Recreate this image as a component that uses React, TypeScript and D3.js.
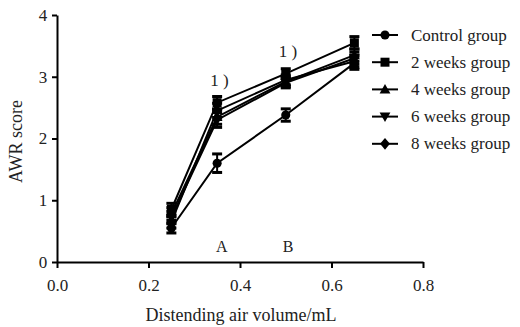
import { useEffect, useRef } from 'react';
import * as d3 from 'd3';

const volumes = [0.25, 0.35, 0.5, 0.65];
const groupNames = ['Control group', '2 weeks group', '4 weeks group', '6 weeks group', '8 weeks group'];
const symbols = ['circle', 'square', 'triangle', 'triangleDown', 'diamond'];

const controlMean = [0.55, 1.6, 2.38, 3.22];
const week2Mean = [0.85, 2.58, 3.05, 3.55];
const week4Mean = [0.78, 2.35, 2.92, 3.35];
const week6Mean = [0.72, 2.3, 2.9, 3.3];
const week8Mean = [0.65, 2.45, 2.95, 3.25];
const seriesMeans = [controlMean, week2Mean, week4Mean, week6Mean, week8Mean];

const controlErr = [0.08, 0.15, 0.1, 0.1];
const week2Err = [0.1, 0.1, 0.08, 0.1];
const week4Err = [0.1, 0.12, 0.08, 0.1];
const week6Err = [0.1, 0.12, 0.08, 0.1];
const week8Err = [0.1, 0.12, 0.08, 0.1];
const seriesErrs = [controlErr, week2Err, week4Err, week6Err, week8Err];

const xTicks = [0, 0.2, 0.4, 0.6, 0.8];
const yTicks = [0, 1, 2, 3, 4];

const sigLabels = [
  { x: 0.355, y: 2.85, text: '1 )' },
  { x: 0.505, y: 3.32, text: '1 )' },
];
const pointLabels = [
  { x: 0.36, text: 'A' },
  { x: 0.505, text: 'B' },
];

const FONT = "'Liberation Serif', 'Times New Roman', 'DejaVu Serif', serif";

function symbolPath(kind: string, s: number): string {
  if (kind === 'circle') return d3.symbol(d3.symbolCircle, s * s * 0.8)()!;
  if (kind === 'square') return `M${-s / 2},${-s / 2}h${s}v${s}h${-s}Z`;
  if (kind === 'triangle') return `M0,${-s * 0.6}L${s * 0.6},${s * 0.45}L${-s * 0.6},${s * 0.45}Z`;
  if (kind === 'triangleDown') return `M0,${s * 0.6}L${s * 0.6},${-s * 0.45}L${-s * 0.6},${-s * 0.45}Z`;
  return `M0,${-s * 0.65}L${s * 0.55},0L0,${s * 0.65}L${-s * 0.55},0Z`;
}

export default function App() {
  const svgRef = useRef<SVGSVGElement>(null);
  const width = 520;
  const height = 327;

  useEffect(() => {
    if (!svgRef.current) return;
    const svg = d3.select(svgRef.current);
    svg.selectAll('*').remove();

    const x = d3.scaleLinear().domain([0, 0.8]).range([57, 423]);
    const y = d3.scaleLinear().domain([0, 4]).range([262, 15]);

    // axes
    const xAxis = svg.append('g').attr('transform', `translate(0,${y(0)})`)
      .call(d3.axisBottom(x).tickValues(xTicks).tickFormat(d => d3.format('.1f')(d as number)).tickSize(6).tickSizeOuter(0));
    const yAxis = svg.append('g').attr('transform', `translate(${x(0)},0)`)
      .call(d3.axisLeft(y).tickValues(yTicks).tickFormat(d => String(d)).tickSize(5).tickSizeOuter(0));
    [xAxis, yAxis].forEach(a => {
      a.attr('font-family', FONT).attr('font-size', 17);
      a.selectAll('path').attr('stroke', '#000').attr('stroke-width', 2);
      a.selectAll('line').attr('stroke', '#000').attr('stroke-width', 2);
      a.selectAll('text').attr('fill', '#222');
    });
    xAxis.selectAll('text').attr('dy', '1.15em');
    yAxis.selectAll('text').attr('dx', '-0.1em');

    svg.append('text')
      .attr('x', 241).attr('y', 321)
      .attr('text-anchor', 'middle')
      .attr('font-family', FONT).attr('font-size', 18).attr('fill', '#222')
      .text('Distending air volume/mL');

    svg.append('text')
      .attr('transform', `translate(22,${y(1.95)}) rotate(-90)`)
      .attr('text-anchor', 'middle')
      .attr('font-family', FONT).attr('font-size', 18).attr('fill', '#222')
      .text('AWR score');

    const line = d3.line<number>().x((_, i) => x(volumes[i])).y(d => y(d));

    seriesMeans.forEach(means => {
      svg.append('path').datum(means)
        .attr('fill', 'none').attr('stroke', '#000').attr('stroke-width', 2)
        .attr('d', line);
    });

    seriesMeans.forEach((means, si) => {
      means.forEach((m, i) => {
        const e = seriesErrs[si][i];
        const cx = x(volumes[i]);
        const g = svg.append('g');
        g.append('line').attr('x1', cx).attr('x2', cx).attr('y1', y(m - e)).attr('y2', y(m + e))
          .attr('stroke', '#000').attr('stroke-width', 2);
        [m - e, m + e].forEach(v => {
          g.append('line').attr('x1', cx - 5).attr('x2', cx + 5).attr('y1', y(v)).attr('y2', y(v))
            .attr('stroke', '#000').attr('stroke-width', 3);
        });
        g.append('path').attr('transform', `translate(${cx},${y(m)})`)
          .attr('d', symbolPath(symbols[si], 9)).attr('fill', '#000');
      });
    });

    sigLabels.forEach(l => {
      svg.append('text').attr('x', x(l.x)).attr('y', y(l.y))
        .attr('text-anchor', 'middle')
        .attr('font-family', FONT).attr('font-size', 17).attr('fill', '#222')
        .text(l.text);
    });
    pointLabels.forEach(l => {
      svg.append('text').attr('x', x(l.x)).attr('y', 252)
        .attr('text-anchor', 'middle')
        .attr('font-family', FONT).attr('font-size', 16).attr('fill', '#222')
        .text(l.text);
    });

    // legend
    const legend = svg.append('g').attr('transform', 'translate(372,35)');
    groupNames.forEach((name, i) => {
      const row = legend.append('g').attr('transform', `translate(0,${i * 27.2})`);
      row.append('line').attr('x1', 0).attr('x2', 26).attr('stroke', '#000').attr('stroke-width', 2);
      row.append('path').attr('transform', 'translate(13,0)').attr('d', symbolPath(symbols[i], 9)).attr('fill', '#000');
      row.append('text').attr('x', 39).attr('y', 5.5)
        .attr('font-family', FONT).attr('font-size', 17).attr('fill', '#222')
        .text(name);
    });
  }, []);

  return (
    <svg ref={svgRef} width={width} height={height}
      style={{ position: 'absolute', left: 0, top: 0, background: '#fff' }} />
  );
}
